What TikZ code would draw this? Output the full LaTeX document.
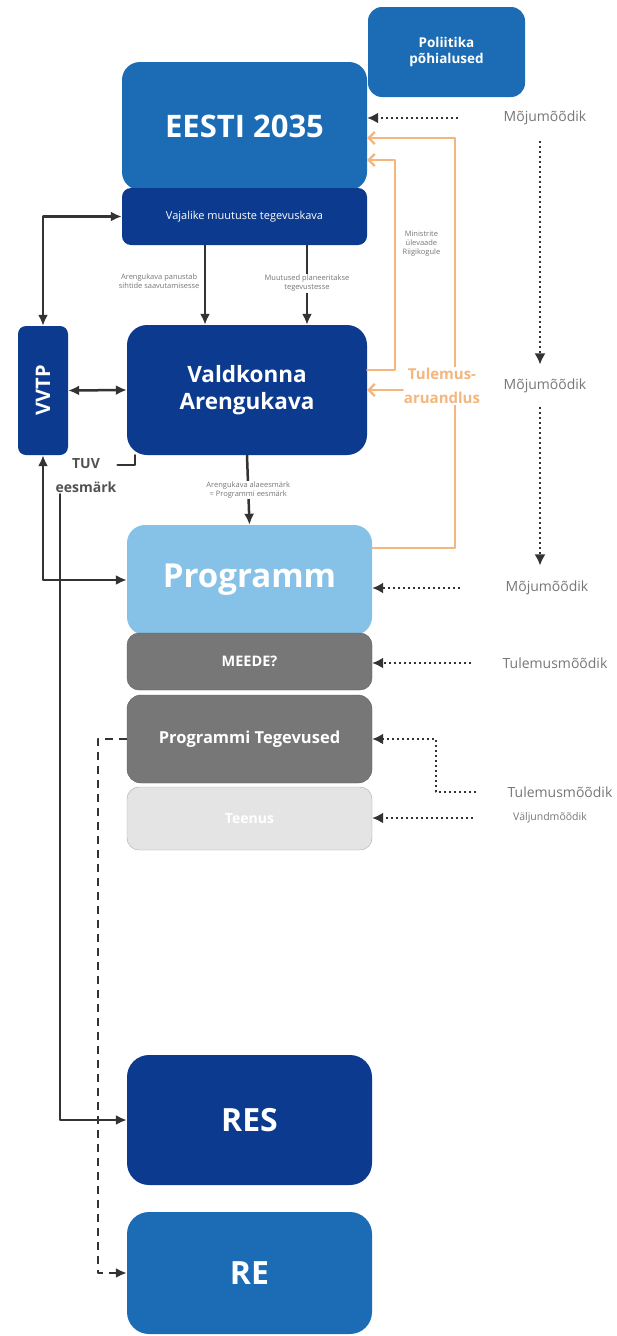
\documentclass[tikz,border=0pt]{standalone}
\usepackage{fontspec}
\setmainfont{Open Sans}
\usetikzlibrary{arrows.meta}

\definecolor{keskSinine}{HTML}{1B6CB4}
\definecolor{tumeSinine}{HTML}{0C3A8E}
\definecolor{heleSinine}{HTML}{86C2E8}
\definecolor{hallKast}{HTML}{777777}
\definecolor{heleHall}{HTML}{E4E4E4}
\definecolor{oranz}{HTML}{F4B67C}
\definecolor{joon}{HTML}{333333}
\definecolor{tekstHall}{HTML}{777777}

\begin{document}
\begin{tikzpicture}[x=1pt, y=-1pt, line cap=round, line join=round,
  blokk/.style={rounded corners=18pt, text=white, align=center, inner sep=2pt},
  silt/.style={text=tekstHall, align=center, font=\fontsize{7.5}{9}\selectfont},
  mootja/.style={text=tekstHall, font=\fontsize{14}{16}\selectfont},
  nool/.style={draw=joon, line width=2.5pt, -{Latex[length=11pt,width=10pt]}},
  topeltnool/.style={draw=joon, line width=2.5pt, {Latex[length=11pt,width=10pt]}-{Latex[length=11pt,width=10pt]}},
  tulemnool/.style={draw=oranz, line width=2.2pt, -{Straight Barb[length=6pt,width=12pt]}},
  punktnool/.style={draw=joon, line width=2pt, line cap=butt, dash pattern=on 2pt off 3pt, -{Latex[length=11pt,width=11pt]}},
  kriipsnool/.style={draw=joon, line width=2.2pt, line cap=butt, dash pattern=on 8pt off 6pt, -{Latex[length=11pt,width=10pt]}}]

% Lehe piirid
\fill[white] (0,0) rectangle (616,1336);
\useasboundingbox (0,0) rectangle (616,1336);

% Ülemised kastid
\node[blokk, fill=keskSinine, rounded corners=14pt, minimum width=157pt, minimum height=90pt,
  font=\bfseries\fontsize{13.5}{16}\selectfont] (poliitika) at (446.5,52) {Poliitika\\põhialused};
\node[blokk, fill=keskSinine, minimum width=245pt, minimum height=128pt,
  font=\bfseries\fontsize{31}{34}\selectfont] (eesti) at (244.5,126) {EESTI 2035};
\node[blokk, fill=tumeSinine, rounded corners=9pt, minimum width=245pt, minimum height=57pt,
  font=\fontsize{11}{13}\selectfont] (vajalike) at (244.5,216.5) {Vajalike muutuste tegevuskava};

% Valdkond ja VVTP
\node[blokk, fill=tumeSinine, rounded corners=20pt, minimum width=240pt, minimum height=130pt,
  font=\bfseries\fontsize{22.5}{27}\selectfont] (valdkond) at (247,390) {Valdkonna\\Arengukava};
\node[blokk, fill=tumeSinine, rounded corners=8pt, minimum width=50pt, minimum height=129pt,
  font=\bfseries\fontsize{20}{24}\selectfont] (vvtp) at (43,390.5) {\rotatebox{90}{VVTP}};
\node[text=joon!85, align=center, font=\bfseries\fontsize{14}{24}\selectfont, inner sep=1pt] (tuv) at (86,476) {TUV\\eesmärk};

% Programmi kastid
\node[blokk, fill=heleSinine, minimum width=245pt, minimum height=110pt,
  font=\bfseries\fontsize{33}{36}\selectfont] (programm) at (249.5,580) {Programm};
\node[blokk, fill=hallKast, draw=hallKast!80!black, rounded corners=12pt, minimum width=245pt, minimum height=57pt,
  font=\bfseries\fontsize{14.5}{17}\selectfont] (meede) at (249.5,661.5) {MEEDE?};
\node[blokk, fill=hallKast, draw=hallKast!80!black, rounded corners=14pt, minimum width=245pt, minimum height=88pt,
  font=\bfseries\fontsize{16.5}{19}\selectfont] (tegevused) at (249.5,739) {Programmi Tegevused};
\node[blokk, fill=heleHall, draw=heleHall!75!black, rounded corners=12pt, minimum width=245pt, minimum height=63pt,
  font=\bfseries\fontsize{14}{17}\selectfont] (teenus) at (249.5,818.5) {Teenus};

% Alumised kastid
\node[blokk, fill=tumeSinine, rounded corners=22pt, minimum width=245pt, minimum height=130pt,
  font=\bfseries\fontsize{32}{36}\selectfont] (res) at (249.5,1120) {RES};
\node[blokk, fill=keskSinine, rounded corners=22pt, minimum width=245pt, minimum height=122pt,
  font=\bfseries\fontsize{32}{36}\selectfont] (re) at (249.5,1273) {RE};

% Nooled kastide vahel
\draw[nool] ([xshift=-39.5pt]vajalike.south) -- ([xshift=-39.5pt]vajalike.south |- valdkond.north)
  node[silt, pos=0.45, left=1pt] {Arengukava panustab\\sihtide saavutamisesse};
\draw[nool] ([xshift=62.5pt]vajalike.south) -- ([xshift=62.5pt]vajalike.south |- valdkond.north)
  node[silt, pos=0.48, fill=white, inner sep=1pt] {Muutused planeeritakse\\tegevustesse};
\draw[nool] (valdkond.south) -- (programm.north)
  node[silt, midway, fill=white, inner sep=1pt] {Arengukava alaeesmärk\\= Programmi eesmärk};
\draw[topeltnool] (vvtp.east) -- (valdkond.west);
\draw[topeltnool] (vvtp.north) |- (vajalike.west);
\draw[topeltnool] (vvtp.south) |- (programm.west);
\draw[draw=joon, line width=2.5pt] ([xshift=8pt]valdkond.south west) |- ([yshift=11pt]tuv.east);
\draw[nool] ([xshift=-26pt]tuv.south) |- (res.west);
\draw[kriipsnool] (tegevused.west) -- ++(-29,0) |- (re.west);

% Tulemusaruandlus
\draw[tulemnool] ([yshift=32pt]programm.east) -- ++(83,0) |- ([yshift=-12pt]eesti.east);
\draw[tulemnool] ([yshift=20pt]valdkond.east) -- ++(28,0) |- ([yshift=-34pt]eesti.east)
  node[silt, pos=0.3, right=3pt] {Ministrite\\ülevaade\\Riigikogule};
\node[fill=white, text=oranz, align=center, inner sep=1pt,
  font=\bfseries\fontsize{15}{24}\selectfont] (tulemus) at (442,386) {Tulemus-\\aruandlus};
\draw[tulemnool] (tulemus.west |- valdkond.east) -- (valdkond.east);

% Mõõdikud
\node[mootja] (mojuA) at (545,118) {Mõjumõõdik};
\node[mootja] (mojuB) at (545,386) {Mõjumõõdik};
\node[mootja] (mojuC) at (547,588) {Mõjumõõdik};
\node[mootja] (tulemA) at (555,663) {Tulemusmõõdik};
\node[mootja] (tulemB) at (560,792) {Tulemusmõõdik};
\node[mootja, font=\fontsize{10.5}{12}\selectfont] (valjund) at (550,818) {Väljundmõõdik};

\draw[punktnool] ([xshift=-42pt]mojuA.west) -- (mojuA.west -| eesti.east);
\draw[punktnool] ([xshift=-5pt,yshift=-12pt]mojuA.south) -- ([xshift=-5pt,yshift=11pt]mojuB.north);
\draw[punktnool] ([xshift=-5pt,yshift=-10pt]mojuB.south) -- ([xshift=-7pt,yshift=12pt]mojuC.north);
\draw[punktnool] ([xshift=-42pt]mojuC.west) -- (mojuC.west -| programm.east);
\draw[punktnool] ([xshift=-28pt]tulemA.west) -- (tulemA.west -| meede.east);
\draw[punktnool] ([xshift=-28pt]tulemB.west) -- ++(-40,0) |- (tegevused.east);
\draw[punktnool] ([xshift=-37pt]valjund.west) -- (valjund.west -| teenus.east);
\end{tikzpicture}
\end{document}
